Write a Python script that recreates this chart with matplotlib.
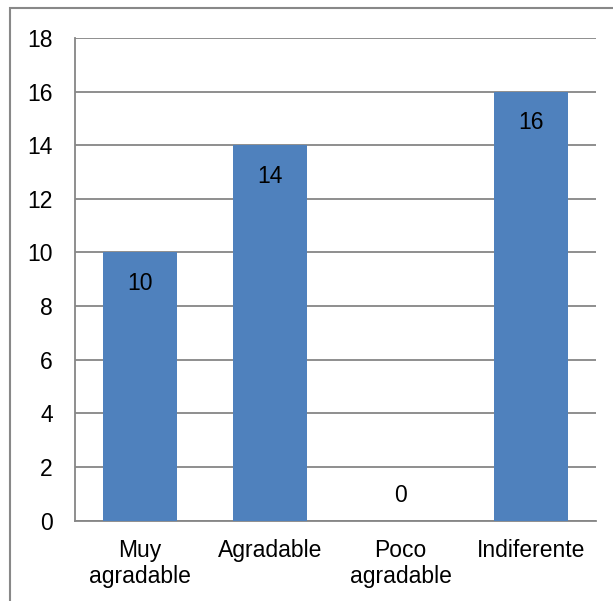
import matplotlib.pyplot as plt
from matplotlib.patches import Rectangle

categorias = ["Muy\nagradable", "Agradable", "Poco\nagradable", "Indiferente"]
valores = [10, 14, 0, 16]

plt.rcParams['font.family'] = ['Liberation Sans', 'DejaVu Sans']

fig = plt.figure(figsize=(6.13, 6.01), dpi=100)
ax = fig.add_axes([75/613, 1 - 520.6/601, (596 - 75)/613, (520.6 - 38)/601])

x = range(len(categorias))
ax.bar(x, valores, width=0.57, color="#4F81BD", zorder=3)

# etiquetas de valor dentro de la barra (encima si vale 0)
for i, v in zip(x, valores):
    y = v - 1.15 if v > 0 else 0.95
    ax.text(i, y, str(v), ha="center", va="center", fontsize=16.5, color="black", zorder=4)

ax.set_xlim(-0.5, len(categorias) - 0.5)
ax.set_ylim(0, 18)
ax.set_yticks(range(0, 19, 2))
ax.set_xticks(list(x))
ax.set_xticklabels(categorias, fontsize=16.5, linespacing=1.2)
ax.tick_params(axis="y", labelsize=16.5, length=0, pad=16)
ax.tick_params(axis="x", length=0, pad=13)

ax.grid(axis="y", color="#868686", linewidth=1.3, zorder=0)
for lado in ["top", "right"]:
    ax.spines[lado].set_visible(False)
ax.spines["left"].set_color("#868686")
ax.spines["bottom"].set_color("#868686")
ax.spines["left"].set_linewidth(1.3)
ax.spines["bottom"].set_linewidth(1.3)

# marco del gráfico
fig.patches.append(Rectangle((10/613, -0.05), 1.1, 1 - 8/601 + 0.05,
                             transform=fig.transFigure, fill=False,
                             edgecolor="#888888", linewidth=1.5))

fig.savefig("out.png", dpi=100)
